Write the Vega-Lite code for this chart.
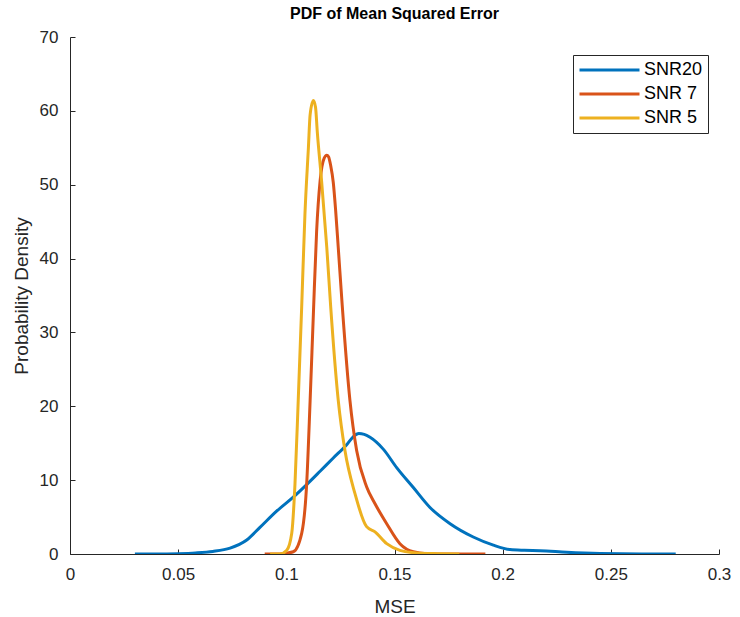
{
  "$schema": "https://vega.github.io/schema/vega-lite/v6.json",
  "width": 649,
  "height": 517,
  "autosize": {"type": "none"},
  "padding": {"left": 70, "top": 37, "right": 21, "bottom": 63},
  "background": "white",
  "title": {
    "text": "PDF of Mean Squared Error",
    "font": "Liberation Sans",
    "fontSize": 16,
    "fontWeight": "bold",
    "color": "#000000",
    "anchor": "middle",
    "offset": 6
  },
  "data": {
    "values": [
      {"series": "SNR20", "mse": 0.030, "pdf": 0},
      {"series": "SNR20", "mse": 0.040, "pdf": 0},
      {"series": "SNR20", "mse": 0.050, "pdf": 0.05},
      {"series": "SNR20", "mse": 0.058, "pdf": 0.15},
      {"series": "SNR20", "mse": 0.066, "pdf": 0.35},
      {"series": "SNR20", "mse": 0.074, "pdf": 0.8},
      {"series": "SNR20", "mse": 0.0817, "pdf": 1.9},
      {"series": "SNR20", "mse": 0.0878, "pdf": 3.6},
      {"series": "SNR20", "mse": 0.0955, "pdf": 5.8},
      {"series": "SNR20", "mse": 0.1032, "pdf": 7.7},
      {"series": "SNR20", "mse": 0.1094, "pdf": 9.4},
      {"series": "SNR20", "mse": 0.1156, "pdf": 11.2},
      {"series": "SNR20", "mse": 0.1217, "pdf": 13.0},
      {"series": "SNR20", "mse": 0.1279, "pdf": 14.8},
      {"series": "SNR20", "mse": 0.131, "pdf": 15.9},
      {"series": "SNR20", "mse": 0.1335, "pdf": 16.3},
      {"series": "SNR20", "mse": 0.136, "pdf": 16.2},
      {"series": "SNR20", "mse": 0.1387, "pdf": 15.8},
      {"series": "SNR20", "mse": 0.1448, "pdf": 14.2},
      {"series": "SNR20", "mse": 0.151, "pdf": 11.7},
      {"series": "SNR20", "mse": 0.1587, "pdf": 9.0},
      {"series": "SNR20", "mse": 0.1664, "pdf": 6.3},
      {"series": "SNR20", "mse": 0.1757, "pdf": 4.1},
      {"series": "SNR20", "mse": 0.1864, "pdf": 2.3},
      {"series": "SNR20", "mse": 0.1957, "pdf": 1.2},
      {"series": "SNR20", "mse": 0.2034, "pdf": 0.6},
      {"series": "SNR20", "mse": 0.210, "pdf": 0.5},
      {"series": "SNR20", "mse": 0.2173, "pdf": 0.45},
      {"series": "SNR20", "mse": 0.2296, "pdf": 0.25},
      {"series": "SNR20", "mse": 0.245, "pdf": 0.08},
      {"series": "SNR20", "mse": 0.255, "pdf": 0.03},
      {"series": "SNR20", "mse": 0.265, "pdf": 0.01},
      {"series": "SNR20", "mse": 0.280, "pdf": 0},
      {"series": "SNR 7", "mse": 0.090, "pdf": 0},
      {"series": "SNR 7", "mse": 0.097, "pdf": 0},
      {"series": "SNR 7", "mse": 0.1032, "pdf": 0.3},
      {"series": "SNR 7", "mse": 0.1071, "pdf": 2.8},
      {"series": "SNR 7", "mse": 0.1094, "pdf": 9.5},
      {"series": "SNR 7", "mse": 0.111, "pdf": 20.8},
      {"series": "SNR 7", "mse": 0.1125, "pdf": 32.5},
      {"series": "SNR 7", "mse": 0.114, "pdf": 43.7},
      {"series": "SNR 7", "mse": 0.1156, "pdf": 50.5},
      {"series": "SNR 7", "mse": 0.1175, "pdf": 53.6},
      {"series": "SNR 7", "mse": 0.1187, "pdf": 54.0},
      {"series": "SNR 7", "mse": 0.1195, "pdf": 53.8},
      {"series": "SNR 7", "mse": 0.1205, "pdf": 52.6},
      {"series": "SNR 7", "mse": 0.1217, "pdf": 50.3},
      {"series": "SNR 7", "mse": 0.1228, "pdf": 46.5},
      {"series": "SNR 7", "mse": 0.124, "pdf": 41.5},
      {"series": "SNR 7", "mse": 0.1258, "pdf": 33.8},
      {"series": "SNR 7", "mse": 0.1294, "pdf": 20.8},
      {"series": "SNR 7", "mse": 0.1325, "pdf": 14.0},
      {"series": "SNR 7", "mse": 0.1371, "pdf": 9.1},
      {"series": "SNR 7", "mse": 0.141, "pdf": 6.8},
      {"series": "SNR 7", "mse": 0.1464, "pdf": 4.1},
      {"series": "SNR 7", "mse": 0.1525, "pdf": 1.4},
      {"series": "SNR 7", "mse": 0.1587, "pdf": 0.3},
      {"series": "SNR 7", "mse": 0.165, "pdf": 0.05},
      {"series": "SNR 7", "mse": 0.175, "pdf": 0},
      {"series": "SNR 7", "mse": 0.192, "pdf": 0},
      {"series": "SNR 5", "mse": 0.0925, "pdf": 0},
      {"series": "SNR 5", "mse": 0.097, "pdf": 0},
      {"series": "SNR 5", "mse": 0.1002, "pdf": 0.5},
      {"series": "SNR 5", "mse": 0.1025, "pdf": 2.8},
      {"series": "SNR 5", "mse": 0.104, "pdf": 9.5},
      {"series": "SNR 5", "mse": 0.1055, "pdf": 20.8},
      {"series": "SNR 5", "mse": 0.1071, "pdf": 33.5},
      {"series": "SNR 5", "mse": 0.1086, "pdf": 46.0},
      {"series": "SNR 5", "mse": 0.1102, "pdf": 55.0},
      {"series": "SNR 5", "mse": 0.111, "pdf": 59.5},
      {"series": "SNR 5", "mse": 0.1125, "pdf": 61.4},
      {"series": "SNR 5", "mse": 0.1135, "pdf": 60.5},
      {"series": "SNR 5", "mse": 0.1143, "pdf": 57.2},
      {"series": "SNR 5", "mse": 0.1163, "pdf": 50.5},
      {"series": "SNR 5", "mse": 0.1187, "pdf": 41.5},
      {"series": "SNR 5", "mse": 0.1205, "pdf": 33.5},
      {"series": "SNR 5", "mse": 0.124, "pdf": 20.8},
      {"series": "SNR 5", "mse": 0.1271, "pdf": 14.0},
      {"series": "SNR 5", "mse": 0.1317, "pdf": 8.2},
      {"series": "SNR 5", "mse": 0.1371, "pdf": 3.7},
      {"series": "SNR 5", "mse": 0.141, "pdf": 3.0},
      {"series": "SNR 5", "mse": 0.1464, "pdf": 1.4},
      {"series": "SNR 5", "mse": 0.1525, "pdf": 0.5},
      {"series": "SNR 5", "mse": 0.160, "pdf": 0.15},
      {"series": "SNR 5", "mse": 0.170, "pdf": 0.05},
      {"series": "SNR 5", "mse": 0.180, "pdf": 0}
    ]
  },
  "mark": {"type": "line", "strokeWidth": 3, "interpolate": "monotone", "clip": true},
  "encoding": {
    "x": {
      "field": "mse",
      "type": "quantitative",
      "title": "MSE",
      "scale": {"domain": [0, 0.3], "nice": false, "zero": false},
      "axis": {"values": [0, 0.05, 0.1, 0.15, 0.2, 0.25, 0.3], "format": "~g"}
    },
    "y": {
      "field": "pdf",
      "type": "quantitative",
      "title": "Probability Density",
      "scale": {"domain": [0, 70], "nice": false},
      "axis": {"values": [0, 10, 20, 30, 40, 50, 60, 70]}
    },
    "color": {
      "field": "series",
      "type": "nominal",
      "scale": {"domain": ["SNR20", "SNR 7", "SNR 5"], "range": ["#0072BD", "#D95319", "#EDB120"]},
      "legend": {
        "title": null,
        "orient": "none",
        "legendX": 503,
        "legendY": 18,
        "symbolType": "stroke",
        "symbolSize": 3600,
        "symbolStrokeWidth": 3,
        "clipHeight": 20,
        "labelFont": "Liberation Sans",
        "labelFontSize": 18,
        "labelColor": "#000000",
        "labelOffset": 3,
        "strokeColor": "#262626",
        "fillColor": "white",
        "padding": 5,
        "rowPadding": 4
      }
    }
  },
  "config": {
    "view": {"stroke": null},
    "axis": {
      "grid": false,
      "domainColor": "#262626",
      "domainWidth": 1,
      "tickColor": "#262626",
      "tickSize": -5,
      "labelFont": "Liberation Sans",
      "labelFontSize": 17,
      "labelColor": "#262626",
      "labelFlush": false,
      "labelOverlap": false,
      "titleFont": "Liberation Sans",
      "titleFontSize": 19,
      "titleFontWeight": "normal",
      "titleColor": "#262626"
    },
    "axisX": {"labelPadding": 17, "titlePadding": 15},
    "axisY": {"labelPadding": 17, "titlePadding": 8}
  }
}
